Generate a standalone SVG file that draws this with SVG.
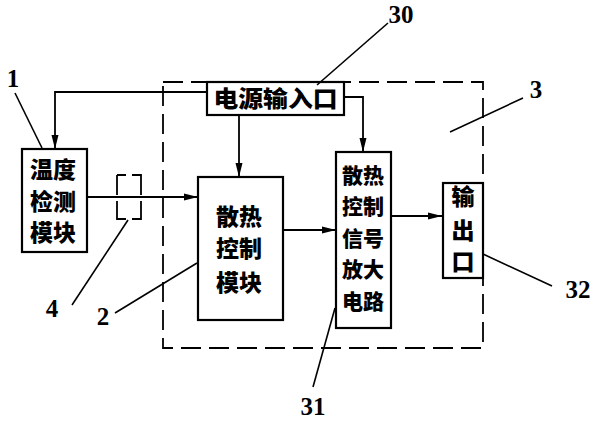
<svg xmlns="http://www.w3.org/2000/svg" width="600" height="426" viewBox="0 0 600 426">
<style>
.box{fill:#fff;stroke:#000;stroke-width:2.2}
.ln{fill:none;stroke:#000;stroke-width:1.8}
.ld{fill:none;stroke:#000;stroke-width:1.6}
.cn{font-family:"Noto Sans CJK SC","Noto Sans CJK JP",sans-serif;font-weight:900;font-size:23px;text-anchor:middle;fill:#000}
.sm{font-size:21px}
.num{font-family:"Liberation Serif",serif;font-weight:bold;font-size:25px;text-anchor:middle;fill:#000}
</style>
<defs>
<marker id="ar" viewBox="0 0 14 8" refX="14" refY="4" markerWidth="14" markerHeight="8" markerUnits="userSpaceOnUse" orient="auto">
<path d="M0,0.5 L14,4 L0,7.5 Z" fill="#000"/>
</marker>
</defs>
<rect width="600" height="426" fill="#fff"/>
<g id="frame-3">
<rect x="163" y="82" width="320" height="266" fill="none" stroke="#000" stroke-width="1.8" stroke-dasharray="20 8"/>
</g>
<g id="connectors">
<polyline class="ln" points="207,92 55,92 55,149" marker-end="url(#ar)"/>
<line class="ln" x1="239" y1="115" x2="239" y2="177" marker-end="url(#ar)"/>
<polyline class="ln" points="344,97 363,97 363,152" marker-end="url(#ar)"/>
<line class="ln" x1="87" y1="197" x2="198" y2="197" marker-end="url(#ar)"/>
<line class="ln" x1="283" y1="230" x2="336" y2="230" marker-end="url(#ar)"/>
<line class="ln" x1="391" y1="216" x2="442" y2="216" marker-end="url(#ar)"/>
</g>
<g id="n30">
<rect class="box" x="207" y="82" width="137" height="33"/>
<text class="cn" x="275.5" y="107" textLength="124" lengthAdjust="spacingAndGlyphs">电源输入口</text>
</g>
<g id="n1">
<rect class="box" x="22" y="149" width="65" height="103"/>
<text class="cn" x="53" y="178">温度</text>
<text class="cn" x="53" y="210">检测</text>
<text class="cn" x="53" y="241">模块</text>
</g>
<g id="n4">
<path d="M117,175 H126 M132,175 H141 V195 M141,201 V219 H132 M126,219 H117 V201 M117,195 V175" fill="none" stroke="#000" stroke-width="1.8"/>
</g>
<g id="n2">
<rect class="box" x="198" y="177" width="85" height="143"/>
<text class="cn" x="239" y="225">散热</text>
<text class="cn" x="239" y="257">控制</text>
<text class="cn" x="239" y="291">模块</text>
</g>
<g id="n31">
<rect class="box" x="336" y="152" width="55" height="176"/>
<text class="cn sm" x="363" y="183">散热</text>
<text class="cn sm" x="363" y="214">控制</text>
<text class="cn sm" x="363" y="246" font-weight="bold">信号</text>
<text class="cn sm" x="363" y="277" font-weight="bold">放大</text>
<text class="cn sm" x="363" y="309" font-weight="bold">电路</text>
</g>
<g id="n32">
<rect class="box" x="443" y="183" width="40" height="95"/>
<text class="cn" x="463" y="205">输</text>
<text class="cn" x="463" y="239" font-weight="bold">出</text>
<text class="cn" x="463" y="270" font-weight="bold">口</text>
</g>
<g id="leaders">
<line class="ld" x1="15" y1="93" x2="42" y2="148"/>
<line class="ld" x1="72" y1="305" x2="128" y2="220"/>
<line class="ld" x1="115" y1="313" x2="197" y2="263"/>
<line class="ld" x1="388" y1="23" x2="317" y2="85"/>
<line class="ld" x1="523" y1="98" x2="450" y2="132"/>
<line class="ld" x1="552" y1="286" x2="483" y2="254"/>
<line class="ld" x1="313" y1="387" x2="335" y2="308"/>
</g>
<g id="labels">
<text class="num" x="13" y="87">1</text>
<text class="num" x="52" y="317">4</text>
<text class="num" x="103" y="325">2</text>
<text class="num" x="401" y="23">30</text>
<text class="num" x="536" y="98">3</text>
<text class="num" x="578" y="298">32</text>
<text class="num" x="313" y="415">31</text>
</g>
</svg>
